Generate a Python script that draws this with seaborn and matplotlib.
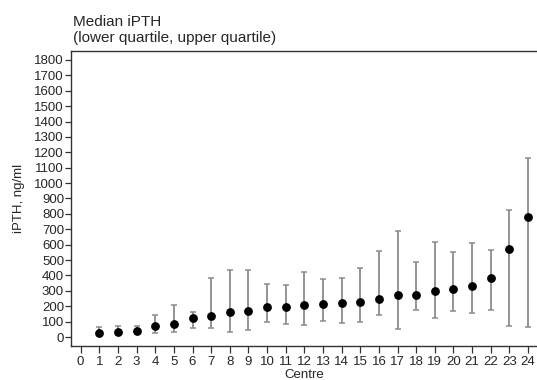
import matplotlib
matplotlib.use("Agg")
import matplotlib.pyplot as plt
import seaborn as sns
import numpy as np
import pandas as pd

centre = list(range(1, 25))
median = [28, 30, 37, 69, 87, 121, 136, 162, 167, 193, 195, 207,
          212, 221, 230, 249, 273, 273, 297, 312, 329, 383, 570, 782]
lower_q = [15, 15, 20, 24, 30, 61, 61, 35, 48, 97, 82, 76,
           102, 91, 95, 145, 54, 175, 121, 171, 158, 173, 69, 63]
upper_q = [63, 71, 74, 141, 208, 162, 385, 433, 433, 347, 338, 420,
           379, 383, 451, 561, 691, 487, 617, 554, 613, 563, 823, 1165]
x_ticks = list(range(0, 25))
y_ticks = list(range(0, 1900, 100))

df = pd.DataFrame({"centre": centre, "median": median,
                   "lower": lower_q, "upper": upper_q})

sns.set_style("white")
plt.rcParams['font.family'] = ['Liberation Sans', 'DejaVu Sans']

fig = plt.figure(figsize=(5.37, 3.8), dpi=100)
ax = fig.add_axes([0.1322, 0.0895, 0.8678, 0.7763])

yerr = np.array([df["median"] - df["lower"], df["upper"] - df["median"]])
ax.errorbar(df["centre"], df["median"], yerr=yerr, fmt="none",
            ecolor="#8c8c8c", elinewidth=1.3, capsize=2.5, capthick=1.1, zorder=1)
sns.scatterplot(data=df, x="centre", y="median", color="black", s=40,
                edgecolor="black", linewidth=0, ax=ax, zorder=2)

ax.set_xlim(-0.52, 24.48)
ax.set_ylim(-58, 1858)
ax.set_xticks(x_ticks)
ax.set_xticklabels([str(t) for t in x_ticks], fontsize=9.5)
ax.set_yticks(y_ticks)
ax.set_yticklabels([str(t) for t in y_ticks], fontsize=9.5)
ax.tick_params(axis="x", direction="out", length=5, width=0.9, color="#333333", pad=2)
ax.tick_params(axis="y", direction="out", length=4, width=0.9, color="#333333", pad=1)
ax.tick_params(bottom=True, left=True)

for s in ["left", "bottom", "top"]:
    ax.spines[s].set_visible(True)
    ax.spines[s].set_color("#333333")
    ax.spines[s].set_linewidth(1.0)
ax.spines["right"].set_visible(False)

ax.set_xlabel("Centre", fontsize=9.5)
ax.xaxis.set_label_coords(0.5, -0.078)
ax.set_ylabel("iPTH, ng/ml", fontsize=9.5, labelpad=7)

fig.text(0.136, 0.943, "Median iPTH", fontsize=11, ha="left", va="center")
fig.text(0.136, 0.900, "(lower quartile, upper quartile)", fontsize=11, ha="left", va="center")

fig.savefig("out.png", dpi=100)
